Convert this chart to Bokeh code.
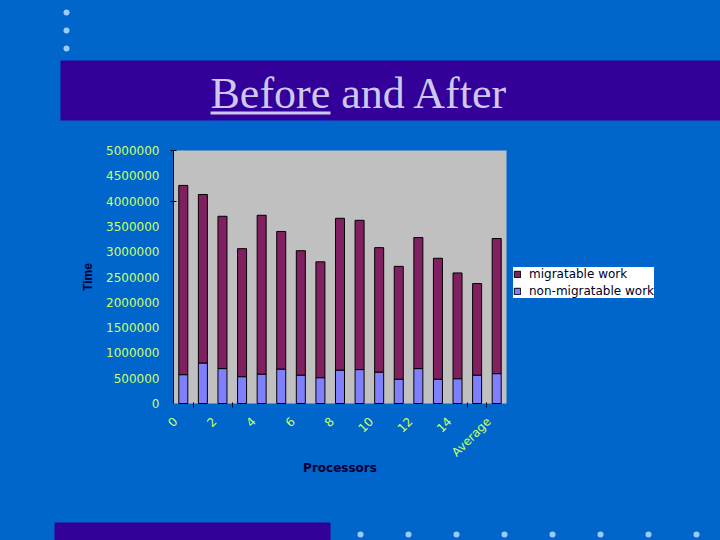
import math
from bokeh.plotting import figure
from bokeh.core.properties import value
from bokeh.models import (FixedTicker, NumeralTickFormatter, Range1d, LinearAxis,
                          Legend, LegendItem, ColumnDataSource, GlobalInlineStyleSheet)
from bokeh.embed import file_html
from bokeh.resources import INLINE

# ---------------- data ----------------
processors = [str(i) for i in range(16)] + ["Average"]
non_migratable = [570000, 800000, 690000, 530000, 580000, 680000, 560000, 510000,
                  660000, 670000, 620000, 480000, 690000, 480000, 490000, 560000, 590000]
migratable = [3740000, 3330000, 3010000, 2530000, 3140000, 2720000, 2460000, 2290000,
              3000000, 2950000, 2460000, 2230000, 2590000, 2390000, 2090000, 1810000, 2670000]
x_label_every = 2
y_ticks = [0, 500000, 1000000, 1500000, 2000000, 2500000, 3000000,
           3500000, 4000000, 4500000, 5000000]
y_max = 5000000
series_names = ["migratable work", "non-migratable work"]
title_text = "Before and After"

# ---------------- styles / layout ----------------
BG = "#0066CC"
TITLEBAR = "#330099"
TITLE_TEXT = "#CFC8EE"
DOT = "#99CCFF"
PLOT_BG = "#C0C0C0"
MIG = "#802060"
NONMIG = "#8080FF"
TICK_TXT = "#CCFF66"
AXIS_TXT = "#000033"
W, H = 720, 540
CL, CR, CT, CB = 173, 506, 150, 403  # plot area on the page (px)
LABEL_SHIFT = 0.4                    # x tick labels sit a little left of the bars

n = len(processors)
x0, x1 = -0.5, n - 0.5
xs = (x1 - x0) / (CR - CL)
ys = y_max / (CB - CT)

p = figure(width=W, height=H, output_backend="svg", toolbar_location=None,
           x_range=Range1d(x0 - CL * xs, x1 + (W - CR) * xs),
           y_range=Range1d(0 - (H - CB) * ys, y_max + CT * ys),
           x_axis_location=None, y_axis_location=None,
           min_border=0, min_border_left=0, min_border_right=0,
           min_border_top=0, min_border_bottom=0,
           background_fill_color=BG, border_fill_color=BG, outline_line_color=None)
p.grid.visible = False
p.extra_x_ranges = {"px": Range1d(0, W)}
p.extra_y_ranges = {"py": Range1d(H, 0)}
p.stylesheets = [GlobalInlineStyleSheet(css="html, body { background-color: #0066CC; }")]

# ---------------- slide decoration ----------------
deco = dict(x_range_name="px", y_range_name="py")
p.quad(left=[60], right=[720], top=[60], bottom=[120], color=TITLEBAR, line_color=None, **deco)
p.text(x=[210], y=[93], text=[title_text], text_font=value("Liberation Serif"),
       text_font_size="44px", text_color=TITLE_TEXT, text_baseline="alphabetic", **deco)
p.quad(left=[210], right=[330], top=[111], bottom=[114], color=TITLE_TEXT, line_color=None, **deco)
p.scatter(x=[66, 66, 66], y=[12, 30, 48], size=6, color=DOT, line_color=None, **deco)
p.quad(left=[54], right=[330], top=[522], bottom=[540], color=TITLEBAR, line_color=None, **deco)
p.scatter(x=[360, 408, 456, 504, 552, 600, 648, 696], y=[534] * 8, size=6,
          color=DOT, line_color=None, **deco)

# ---------------- chart ----------------
p.quad(left=[x0], right=[x1], bottom=[0], top=[y_max], color=PLOT_BG, line_color=None)

pos = list(range(n))
src = ColumnDataSource(dict(x=pos, non=non_migratable, mig=migratable))
rs = p.vbar_stack(["non", "mig"], x="x", width=0.46, color=[NONMIG, MIG],
                  line_color="black", line_width=1, source=src)

ya = LinearAxis(fixed_location=x0, bounds=(0, y_max))
ya.ticker = FixedTicker(ticks=y_ticks, minor_ticks=[4000000, 5000000])
ya.formatter = NumeralTickFormatter(format="0")
ya.major_tick_in = 0
ya.major_tick_out = 0
ya.minor_tick_in = 3
ya.minor_tick_out = 3
ya.minor_tick_line_color = "black"
ya.axis_line_color = "black"
ya.major_label_text_color = TICK_TXT
ya.major_label_text_font = "DejaVu Sans"
ya.major_label_text_font_size = "12px"
ya.major_label_standoff = 11
ya.axis_label = "Time"
ya.axis_label_text_font = "Liberation Sans"
ya.axis_label_text_font_style = "bold"
ya.axis_label_text_font_size = "12px"
ya.axis_label_text_color = AXIS_TXT
ya.axis_label_standoff = 8
p.add_layout(ya, "left")

xa = LinearAxis(fixed_location=0, bounds=(x0, x1))
xt = [i for i in pos if i % x_label_every == 0]
xa.ticker = FixedTicker(ticks=[i - LABEL_SHIFT for i in xt],
                        minor_ticks=[0.5, 2.5, 14.5, 15.5])
xa.major_label_overrides = {i - LABEL_SHIFT: processors[i] for i in xt}
xa.major_label_orientation = math.pi / 4
xa.axis_line_color = None
xa.major_tick_in = 0
xa.major_tick_out = 0
xa.minor_tick_in = 1
xa.minor_tick_out = 4
xa.minor_tick_line_color = "black"
xa.major_label_text_color = TICK_TXT
xa.major_label_text_font = "DejaVu Sans"
xa.major_label_text_font_size = "12px"
xa.major_label_standoff = 12
xa.axis_label = "Processors"
xa.axis_label_text_font = "DejaVu Sans"
xa.axis_label_text_font_style = "bold"
xa.axis_label_text_font_size = "12px"
xa.axis_label_text_color = AXIS_TXT
xa.axis_label_standoff = -6
p.add_layout(xa, "below")

legend = Legend(items=[LegendItem(label=series_names[0], renderers=[rs[1]]),
                       LegendItem(label=series_names[1], renderers=[rs[0]])],
                location=(513, H - 298), background_fill_color="white",
                background_fill_alpha=1, border_line_color=None,
                label_text_font="DejaVu Sans", label_text_font_size="12px",
                label_text_color="#000022", glyph_width=8, glyph_height=8,
                label_height=13, spacing=3, padding=4, margin=0, label_standoff=8)
p.add_layout(legend)

open("out.html", "w").write(file_html(p, INLINE))
